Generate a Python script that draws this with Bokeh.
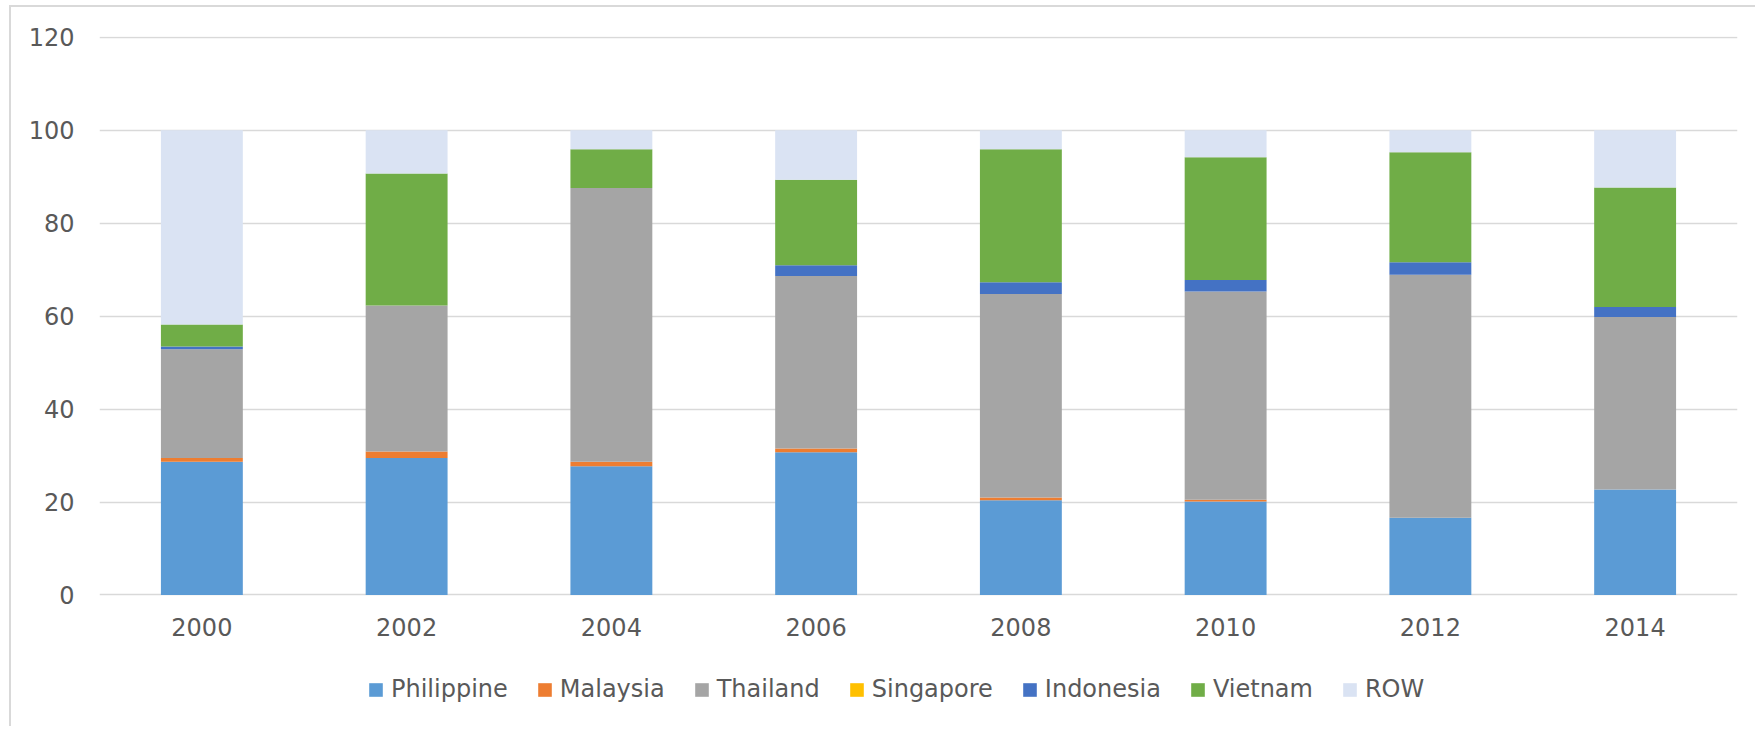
from bokeh.plotting import figure
from bokeh.models import FactorRange, Range1d, Legend, LegendItem, FixedTicker
from bokeh.core.properties import value
from bokeh.embed import file_html
from bokeh.resources import INLINE

years = ["2000", "2002", "2004", "2006", "2008", "2010", "2012", "2014"]
series = ["Philippine", "Malaysia", "Thailand", "Singapore", "Indonesia", "Vietnam", "ROW"]
philippine = [28.7, 29.5, 27.7, 30.7, 20.4, 20.1, 16.6, 22.7]
malaysia = [0.8, 1.4, 1.0, 0.85, 0.6, 0.4, 0.0, 0.0]
thailand = [23.4, 31.4, 58.9, 37.1, 43.8, 44.8, 52.3, 37.1]
singapore = [0.0, 0.0, 0.0, 0.0, 0.0, 0.0, 0.0, 0.0]
indonesia = [0.6, 0.0, 0.0, 2.3, 2.5, 2.5, 2.7, 2.2]
vietnam = [4.7, 28.4, 8.3, 18.4, 28.6, 26.4, 23.7, 25.7]
row = [41.8, 9.3, 4.1, 10.65, 4.1, 5.8, 4.7, 12.3]
y_ticks = [0, 20, 40, 60, 80, 100, 120]

colors = ["#5B9BD5", "#ED7D31", "#A5A5A5", "#FFC000", "#4472C4", "#70AD47", "#DAE3F3"]

data = {"year": years, "Philippine": philippine, "Malaysia": malaysia, "Thailand": thailand,
        "Singapore": singapore, "Indonesia": indonesia, "Vietnam": vietnam, "ROW": row}

FONT = "DejaVu Sans"
TXT = "#595959"

# the lower part of the frame holds the category labels and the legend
p = figure(x_range=FactorRange(*years, range_padding=0), y_range=Range1d(-28.73, 120.19),
           width=1746, height=721, output_backend="svg", toolbar_location=None,
           min_border_left=88, min_border_right=20, min_border_top=29, min_border_bottom=0)
p.styles = {"margin-left": "9px", "margin-top": "5px",
            "border-left": "2px solid #D9D9D9", "border-top": "2px solid #D9D9D9"}
p.outline_line_color = None
p.background_fill_color = "white"
p.border_fill_color = "white"

rs = p.vbar_stack(series, x="year", width=0.4, color=colors, source=data, line_color=None)

p.xgrid.grid_line_color = None
p.ygrid.grid_line_color = "#D9D9D9"
p.ygrid.grid_line_width = 1.3
p.yaxis.ticker = FixedTicker(ticks=y_ticks)
p.xaxis.fixed_location = 0

for ax in (p.xaxis[0], p.yaxis[0]):
    ax.axis_line_color = None
    ax.major_tick_line_color = None
    ax.minor_tick_line_color = None
    ax.major_tick_out = 0
    ax.major_tick_in = 0
    ax.major_label_text_font = FONT
    ax.major_label_text_font_size = "24px"
    ax.major_label_text_color = TXT
p.yaxis.major_label_standoff = 25
p.xaxis.major_label_standoff = 23

legend = Legend(items=[LegendItem(label=value(s), renderers=[r]) for s, r in zip(series, rs)],
                orientation="horizontal", location=(268, 25),
                glyph_width=17, glyph_height=17, label_standoff=7, spacing=28,
                padding=0, margin=0, border_line_color=None, background_fill_color="white",
                label_text_font=FONT, label_text_font_size="24px", label_text_color=TXT)
p.add_layout(legend)

open("out.html", "w").write(file_html(p, INLINE))
